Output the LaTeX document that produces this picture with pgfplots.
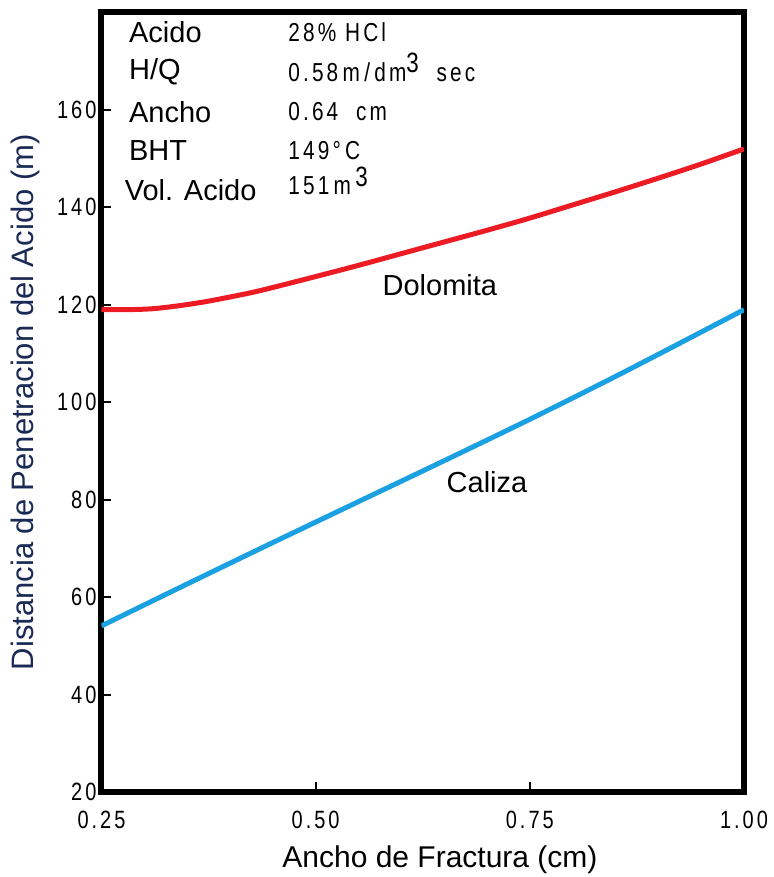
\documentclass[border=0pt]{standalone}
\usepackage{fontspec}
\setmainfont{Liberation Sans}
\newfontfamily\condfont{Liberation Sans}[FakeStretch=0.8, LetterSpace=12]
\usepackage{pgfplots}
\pgfplotsset{compat=1.18}
\definecolor{dolo}{HTML}{ED1C24}
\definecolor{cal}{HTML}{1BA1E2}
\definecolor{ylab}{HTML}{1A2A55}

\begin{document}
\begin{tikzpicture}
\path[use as bounding box] (-50.75pt,-42.5pt) rectangle (335.75pt,396pt);
\begin{axis}[
  at={(0,0)}, anchor=south west,
  scale only axis, width=321.25pt, height=389.75pt,
  xmin=0.25, xmax=1.0, ymin=20, ymax=180,
  xtick={0.25,0.5,0.75,1.0},
  xticklabels={0.25,0.50,0.75,1.00},
  ytick={20,40,...,160},
  tick align=inside, xtick pos=bottom, ytick pos=left,
  major tick length=5pt,
  tick style={line width=1pt, black},
  axis line style={line width=3pt, line cap=rect},
  /pgf/number format/assume math mode=true,
  ticklabel style={font=\condfont\fontsize{12.5}{14}\selectfont},
  xticklabel style={yshift=-6pt},
  yticklabel style={xshift=1pt},
  ylabel={Distancia de Penetracion del Acido (m)},
  ylabel style={at={(axis description cs:0,0.5)}, anchor=center, yshift=38pt, font=\fontsize{15.5}{18}\selectfont, text=ylab},
  xlabel={Ancho de Fractura (cm)},
  xlabel style={at={(axis description cs:0.5,0)}, anchor=center, xshift=8.6pt, yshift=-34pt, font=\fontsize{15}{18}\selectfont},
]
\addplot[dolo, line width=2.5pt, smooth] coordinates {
  (0.25,119.0) (0.28,119.0) (0.31,119.2) (0.34,119.8) (0.37,120.6)
  (0.40,121.6) (0.43,122.7) (0.46,124.0) (0.50,125.8) (0.55,128.1)
  (0.60,130.5) (0.65,132.9) (0.70,135.3) (0.75,137.8) (0.80,140.5)
  (0.85,143.2) (0.90,146.0) (0.95,148.9) (1.00,152.0)
};
\addplot[cal, line width=2.5pt, smooth] coordinates {
  (0.25,54.1) (0.35,62.7) (0.45,71.2) (0.55,79.6) (0.65,88.0)
  (0.75,96.5) (0.85,105.3) (0.95,114.4) (1.0,119.0)
};
\node[font=\fontsize{14.5}{17}\selectfont] at (axis cs:0.645,124.1) {Dolomita};
\node[font=\fontsize{14.5}{17}\selectfont] at (axis cs:0.700,83.5) {Caliza};

\node[anchor=west, font=\fontsize{14.5}{17}\selectfont] at (axis cs:0.274,176.0) {Acido};
\node[anchor=west, font=\fontsize{14.5}{17}\selectfont] at (axis cs:0.274,167.8) {H/Q};
\node[anchor=west, font=\fontsize{14.5}{17}\selectfont] at (axis cs:0.274,159.6) {Ancho};
\node[anchor=west, font=\fontsize{14.5}{17}\selectfont] at (axis cs:0.274,151.6) {BHT};
\node[anchor=west, font=\fontsize{14.5}{17}\selectfont] at (axis cs:0.269,143.6) {Vol. Acido};

\node[anchor=west, font=\condfont\fontsize{13}{15}\selectfont] at (axis cs:0.460,176.0) {28\% HCl};
\node[anchor=west, font=\condfont\fontsize{13}{15}\selectfont] at (axis cs:0.460,167.8) {0.58\,m\,/\,dm\smash{\raisebox{0.6ex}{\fontsize{14}{14}\selectfont 3}}\ \ sec};
\node[anchor=west, font=\condfont\fontsize{13}{15}\selectfont] at (axis cs:0.460,159.6) {0.64\ \ cm};
\node[anchor=west, font=\condfont\fontsize{13}{15}\selectfont] at (axis cs:0.460,151.6) {149°\,C};
\node[anchor=west, font=\condfont\fontsize{13}{15}\selectfont] at (axis cs:0.460,144.4) {151\,m\,\smash{\raisebox{0.6ex}{\fontsize{14}{14}\selectfont 3}}};
\end{axis}
\end{tikzpicture}
\end{document}
